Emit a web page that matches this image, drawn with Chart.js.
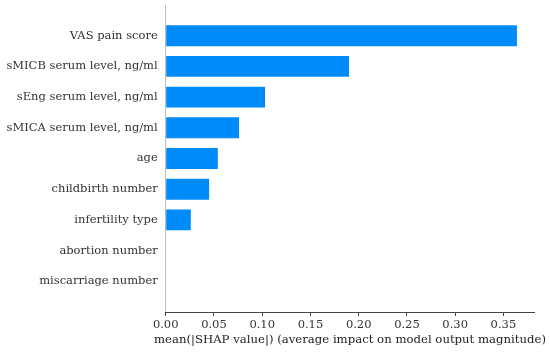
<!DOCTYPE html>
<html>
<head>
<meta charset="utf-8">
<script src="https://cdn.jsdelivr.net/npm/chart.js@4.4.1/dist/chart.umd.min.js"></script>
<style>
  html, body { margin: 0; padding: 0; background: #ffffff; }
  #wrap { width: 550px; height: 355px; position: relative; }
</style>
</head>
<body>
<div id="wrap"><canvas id="c"></canvas></div>
<script>
const features = [
  "VAS pain score",
  "sMICB serum level, ng/ml",
  "sEng serum level, ng/ml",
  "sMICA serum level, ng/ml",
  "age",
  "childbirth number",
  "infertility type",
  "abortion number",
  "miscarriage number"
];
const shapValues = [0.364, 0.190, 0.103, 0.076, 0.054, 0.045, 0.026, 0.0, 0.0];
const xTickValues = [0.00, 0.05, 0.10, 0.15, 0.20, 0.25, 0.30, 0.35];
const xAxisTitle = "mean(|SHAP value|) (average impact on model output magnitude)";

const FONT = "'DejaVu Serif', 'Liberation Serif', serif";

const xTitlePlugin = {
  id: 'xTitle',
  afterDraw(chart) {
    const x = chart.scales.x;
    const ctx = chart.ctx;
    ctx.save();
    ctx.font = "11.7px " + FONT;
    ctx.fillStyle = '#222222';
    ctx.textAlign = 'center';
    ctx.textBaseline = 'middle';
    ctx.fillText(xAxisTitle, (x.left + x.right) / 2, 340);
    ctx.restore();
  }
};

new Chart(document.getElementById('c'), {
  type: 'bar',
  data: {
    datasets: [{
      data: features.map((f, i) => ({ x: shapValues[i], y: i })),
      backgroundColor: '#008bfb',
      borderWidth: 0,
      categoryPercentage: 1.0,
      barPercentage: 0.68
    }]
  },
  plugins: [xTitlePlugin],
  options: {
    indexAxis: 'y',
    responsive: true,
    maintainAspectRatio: false,
    animation: false,
    layout: { padding: { top: 5, right: 15.7, left: 0, bottom: 8 } },
    plugins: { legend: { display: false }, tooltip: { enabled: false } },
    scales: {
      y: {
        type: 'linear',
        offset: false,
        min: -1,
        max: 9,
        reverse: true,
        afterBuildTicks: (scale) => { scale.ticks = features.map((f, i) => ({ value: i })); },
        afterFit: (scale) => { scale.width = 165.7; scale.paddingTop = 0; scale.paddingBottom = 0; },
        grid: { display: false, drawTicks: false },
        border: { display: true, color: '#bdbdbd', width: 1 },
        ticks: {
          autoSkip: false,
          padding: 8,
          color: '#333333',
          font: { family: FONT, size: 11.5 },
          callback: (v) => features[v] !== undefined ? features[v] : ''
        }
      },
      x: {
        type: 'linear',
        min: 0,
        max: 0.382,
        afterBuildTicks: (scale) => { scale.ticks = xTickValues.map(v => ({ value: v })); },
        afterFit: (scale) => { scale.height = 35; },
        grid: { drawOnChartArea: false, drawTicks: true, tickLength: 4, color: '#444444' },
        border: { display: true, color: '#444444', width: 1 },
        ticks: {
          padding: 2,
          color: '#333333',
          font: { family: FONT, size: 11.5 },
          callback: (v) => Number(v).toFixed(2)
        },
        title: { display: false }
      }
    }
  }
});
</script>
</body>
</html>
